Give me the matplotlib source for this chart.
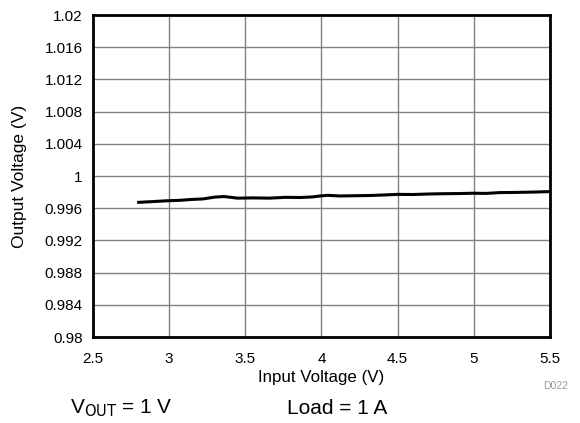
import numpy as np
import matplotlib.pyplot as plt

plt.rcParams['font.family'] = ['Liberation Sans', 'DejaVu Sans']

# Input voltage (V) vs output voltage (V)
vin = [2.80, 2.90, 2.99, 3.07, 3.14, 3.22, 3.30, 3.36, 3.45, 3.55, 3.66, 3.76,
       3.86, 3.94, 3.99, 4.04, 4.12, 4.22, 4.32, 4.42, 4.50, 4.60, 4.71, 4.80,
       4.90, 4.99, 5.08, 5.17, 5.27, 5.38, 5.48, 5.50]
vout = [0.99673, 0.99683, 0.99693, 0.99698, 0.99708, 0.99715, 0.99738, 0.99745,
        0.99725, 0.99728, 0.99725, 0.99735, 0.99733, 0.99740, 0.99752, 0.99760,
        0.99752, 0.99755, 0.99758, 0.99765, 0.99772, 0.99770, 0.99777, 0.99780,
        0.99782, 0.99786, 0.99784, 0.99794, 0.99796, 0.99800, 0.99805, 0.99806]

xticks = [2.5, 3, 3.5, 4, 4.5, 5, 5.5]
xlabels = ['2.5', '3', '3.5', '4', '4.5', '5', '5.5']
yticks = [0.98, 0.984, 0.988, 0.992, 0.996, 1.0, 1.004, 1.008, 1.012, 1.016, 1.02]
ylabels = ['0.98', '0.984', '0.988', '0.992', '0.996', '1', '1.004', '1.008',
           '1.012', '1.016', '1.02']

fig = plt.figure(figsize=(5.8, 4.23), dpi=100)
ax = fig.add_axes([0.1603, 0.2033, 0.788, 0.7612])

ax.plot(vin, vout, color='black', lw=2.2)

ax.set_xlim(2.5, 5.5)
ax.set_ylim(0.98, 1.02)
ax.set_xticks(xticks)
ax.set_xticklabels(xlabels)
ax.set_yticks(yticks)
ax.set_yticklabels(ylabels)
ax.tick_params(length=0, labelsize=11)
ax.tick_params(axis='x', pad=11)
ax.tick_params(axis='y', pad=7.5)
ax.grid(True, color='#808080', lw=1)
for s in ax.spines.values():
    s.set_linewidth(2)
    s.set_color('black')

ax.set_xlabel('Input Voltage (V)', fontsize=12.2, va='center')
ax.set_ylabel('Output Voltage (V)', fontsize=12.5, va='center')
ax.xaxis.set_label_coords(0.5, -0.127)
ax.yaxis.set_label_coords(-0.16, 0.5)

fig.text(0.979, 0.0875, 'D022', fontsize=7.5, color='#999999', ha='right', va='center')
fig.text(0.1207, 0.035, r'V$_{\mathrm{OUT}}$ = 1 V', fontsize=15, ha='left', va='center')
fig.text(0.495, 0.035, 'Load = 1 A', fontsize=15, ha='left', va='center')

fig.savefig('out.png', dpi=100)
